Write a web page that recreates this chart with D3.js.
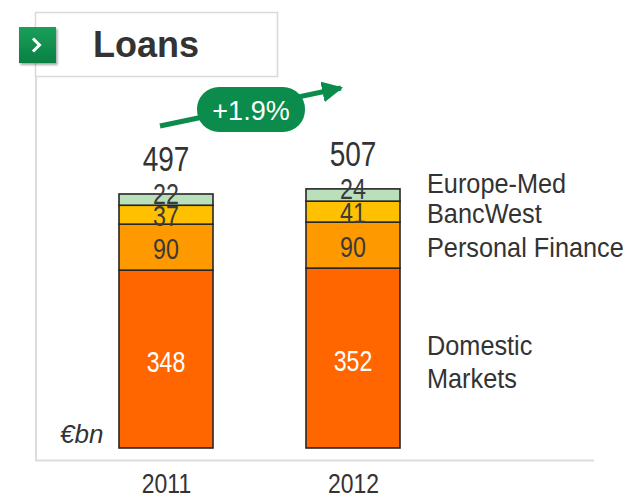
<!DOCTYPE html>
<html>
<head>
<meta charset="utf-8">
<script src="https://cdn.jsdelivr.net/npm/d3@7"></script>
<style>
  html, body { margin: 0; padding: 0; background: #fff; }
  svg { display: block; }
  .sans { font-family: "Liberation Sans", Arial, sans-serif; }
</style>
</head>
<body>
<svg id="chart" width="628" height="497"></svg>
<script>
// Loans by business line, €bn
const years = ["2011", "2012"];
const segments = ["Domestic Markets", "Personal Finance", "BancWest", "Europe-Med"];
const domesticMarkets = [348, 352];
const personalFinance = [90, 90];
const bancWest = [37, 41];
const europeMed = [22, 24];
const totals = [497, 507];
const growthLabel = "+1.9%";

const colors = {
  "Domestic Markets": "#ff6600",
  "Personal Finance": "#ff9900",
  "BancWest": "#ffc000",
  "Europe-Med": "#b9dfbb"
};
const labelColors = {
  "Domestic Markets": "#ffffff",
  "Personal Finance": "#3a3a3a",
  "BancWest": "#3a3a3a",
  "Europe-Med": "#3a3a3a"
};

const rows = years.map((yr, i) => ({
  year: yr,
  "Domestic Markets": domesticMarkets[i],
  "Personal Finance": personalFinance[i],
  "BancWest": bancWest[i],
  "Europe-Med": europeMed[i],
  total: totals[i]
}));

const svg = d3.select("#chart");
const NARROW = 0.8; // horizontal squeeze for condensed number labels

// condensed text: placed by translate, then squeezed horizontally
function narrowText(sel, px, py) {
  return sel.attr("class", "sans")
    .attr("x", 0).attr("y", 0)
    .attr("transform", (d, i) => `translate(${px(d, i)},${py(d, i)}) scale(${NARROW},1)`);
}

// frame: title box, left rule and baseline rule
svg.append("rect").attr("x", 35.5).attr("y", 12.5).attr("width", 242).attr("height", 64)
  .attr("fill", "#fff").attr("stroke", "#d9d9d9").attr("stroke-width", 1.5);
svg.append("line").attr("x1", 36).attr("x2", 36).attr("y1", 77).attr("y2", 461)
  .attr("stroke", "#dcdcdc").attr("stroke-width", 2);
svg.append("line").attr("x1", 35).attr("x2", 594).attr("y1", 460.5).attr("y2", 460.5)
  .attr("stroke", "#dcdcdc").attr("stroke-width", 2);

// title badge
const defs = svg.append("defs");
const grad = defs.append("linearGradient").attr("id", "badge").attr("x1", 0).attr("y1", 0).attr("x2", 0).attr("y2", 1);
grad.append("stop").attr("offset", "0%").attr("stop-color", "#1aa05a");
grad.append("stop").attr("offset", "100%").attr("stop-color", "#0b7f43");
const shadow = defs.append("filter").attr("id", "drop").attr("x", "-30%").attr("y", "-30%").attr("width", "160%").attr("height", "160%");
shadow.append("feDropShadow").attr("dx", 1.5).attr("dy", 2).attr("stdDeviation", 1.2).attr("flood-color", "#000").attr("flood-opacity", 0.35);

svg.append("rect").attr("x", 19).attr("y", 27).attr("width", 37).attr("height", 36)
  .attr("fill", "url(#badge)").attr("filter", "url(#drop)");
svg.append("path").attr("d", "M34,39.5 L39.5,45 L34,50.5")
  .attr("fill", "none").attr("stroke", "#fff").attr("stroke-width", 3).attr("stroke-linecap", "square");

svg.append("text").attr("class", "sans").attr("x", 93).attr("y", 57)
  .attr("font-size", 36).attr("font-weight", "bold").attr("fill", "#333")
  .text("Loans");

// scales
const x = d3.scalePoint().domain(years).range([166, 353]);
const barWidth = 94;
const y = d3.scaleLinear().domain([0, 497]).range([448, 194]);

const series = d3.stack().keys(segments)(rows);

svg.append("g").selectAll("g")
  .data(series).join("g")
  .attr("fill", d => colors[d.key])
  .selectAll("rect")
  .data(d => d)
  .join("rect")
  .attr("x", d => x(d.data.year) - barWidth / 2)
  .attr("width", barWidth)
  .attr("y", d => y(d[1]))
  .attr("height", d => y(d[0]) - y(d[1]))
  .attr("stroke", "#262626")
  .attr("stroke-width", 1.6);

// segment values
const labelLift = { "Domestic Markets": -2, "Personal Finance": -1, "BancWest": -1, "Europe-Med": 6 };
const segData = [];
series.forEach(s => s.forEach(p => segData.push({ key: s.key, year: p.data.year, lo: p[0], hi: p[1] })));
svg.append("g").attr("text-anchor", "middle")
  .selectAll("text").data(segData).join("text")
  .call(narrowText, d => x(d.year), d => (y(d.lo) + y(d.hi)) / 2 - labelLift[d.key])
  .attr("dy", "0.36em")
  .attr("font-size", 29)
  .attr("fill", d => labelColors[d.key])
  .text(d => d.hi - d.lo);

// totals above bars
svg.append("g").attr("text-anchor", "middle")
  .selectAll("text").data(rows).join("text")
  .call(narrowText, d => x(d.year), d => y(d.total) - 23)
  .attr("font-size", 35)
  .attr("fill", "#333")
  .text(d => d.total);

// year axis
const xAxis = svg.append("g").attr("transform", "translate(0,493)")
  .call(d3.axisBottom(x).tickSize(0).tickPadding(0));
xAxis.select(".domain").remove();
xAxis.attr("font-size", null).attr("font-family", null);
xAxis.selectAll("text")
  .attr("class", "sans")
  .attr("dy", 0)
  .attr("transform", "scale(0.85,1)")
  .style("font-size", "27px")
  .attr("fill", "#333");

// unit label
svg.append("text").attr("class", "sans").attr("x", 60).attr("y", 443)
  .attr("font-size", 26).attr("font-style", "italic").attr("fill", "#333")
  .text("€bn");

// segment names on the right
const legendLines = [
  { text: "Europe-Med", y: 193 },
  { text: "BancWest", y: 223 },
  { text: "Personal Finance", y: 257 },
  { text: "Domestic", y: 355 },
  { text: "Markets", y: 388 }
];
svg.append("g")
  .selectAll("text").data(legendLines).join("text")
  .attr("class", "sans")
  .attr("transform", d => `translate(427,${d.y}) scale(0.92,1)`)
  .attr("font-size", 27.5).attr("fill", "#333")
  .text(d => d.text);

// growth arrow with pill
const green = "#0b8c4c";
defs.append("marker").attr("id", "head").attr("viewBox", "0 0 10 10")
  .attr("refX", 9).attr("refY", 5).attr("markerWidth", 4.2).attr("markerHeight", 4.2)
  .attr("orient", "auto").attr("markerUnits", "strokeWidth")
  .append("path").attr("d", "M0,0 L10,5 L0,10 Z").attr("fill", green);
svg.append("line").attr("x1", 160).attr("y1", 126).attr("x2", 341).attr("y2", 88)
  .attr("stroke", green).attr("stroke-width", 5).attr("marker-end", "url(#head)");
svg.append("rect").attr("x", 197).attr("y", 87).attr("width", 108).attr("height", 45)
  .attr("rx", 22).attr("fill", green);
svg.append("text").attr("class", "sans").attr("x", 251).attr("y", 120)
  .attr("text-anchor", "middle").attr("font-size", 27).attr("fill", "#fff")
  .text(growthLabel);
</script>
</body>
</html>
